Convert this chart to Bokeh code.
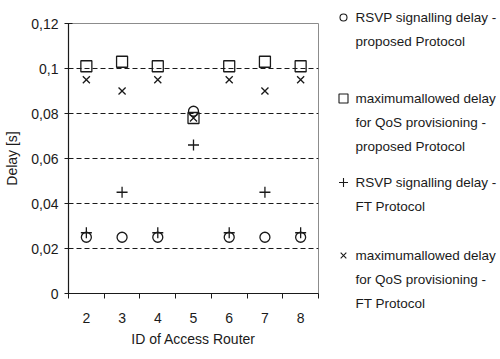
from bokeh.plotting import figure
from bokeh.layouts import row
from bokeh.models import Range1d, FixedTicker
from bokeh.core.properties import value
from bokeh.embed import file_html
from bokeh.resources import INLINE

routers = [2, 3, 4, 5, 6, 7, 8]
rsvp_proposed = [0.025, 0.025, 0.025, 0.081, 0.025, 0.025, 0.025]
maxdelay_proposed = [0.101, 0.103, 0.101, 0.078, 0.101, 0.103, 0.101]
rsvp_ft = [0.027, 0.045, 0.027, 0.066, 0.027, 0.045, 0.027]
maxdelay_ft = [0.095, 0.090, 0.095, 0.078, 0.095, 0.090, 0.095]

y_ticks = [0, 0.02, 0.04, 0.06, 0.08, 0.1, 0.12]
y_tick_labels = ["0", "0,02", "0,04", "0,06", "0,08", "0,1", "0,12"]
grid_values = [0.02, 0.04, 0.06, 0.08, 0.1]

legend_lines = [
    ["RSVP signalling delay -", "proposed Protocol"],
    ["maximumallowed delay", "for QoS provisioning -", "proposed Protocol"],
    ["RSVP signalling delay -", "FT Protocol"],
    ["maximumallowed delay", "for QoS provisioning -", "FT Protocol"],
]

FONT = "Liberation Sans"
INK = "#1a1a1a"

p = figure(frame_width=250, frame_height=270, output_backend="svg", toolbar_location=None,
           x_range=Range1d(1.5, 8.5), y_range=Range1d(0, 0.12),
           min_border_left=68, min_border_right=10, min_border_top=23, min_border_bottom=66)
p.frame_align = False
p.outline_line_color = "#8c8c8c"
p.outline_line_width = 1
p.background_fill_color = "white"
p.border_fill_color = "white"

# x axis
p.xaxis.ticker = FixedTicker(ticks=routers, minor_ticks=[r - 0.5 for r in routers] + [routers[-1] + 0.5])
p.xaxis.major_tick_line_color = None
p.xaxis.major_tick_out = 5
p.xaxis.major_tick_in = 0
p.xaxis.minor_tick_out = 5
p.xaxis.minor_tick_in = 0
p.xaxis.minor_tick_line_color = INK
p.xaxis.major_label_standoff = 14
p.xaxis.axis_label = "ID of Access Router"
p.xaxis.axis_label_standoff = 5

# y axis
p.yaxis.ticker = FixedTicker(ticks=y_ticks, minor_ticks=[])
p.yaxis.major_label_overrides = {t: l for t, l in zip(y_ticks, y_tick_labels)}
p.yaxis.major_tick_in = 4
p.yaxis.major_tick_out = 4
p.yaxis.major_tick_line_color = INK
p.yaxis.major_label_standoff = 6
p.yaxis.axis_label = "Delay [s]"
p.yaxis.axis_label_standoff = 8

for ax in (p.xaxis, p.yaxis):
    ax.axis_line_color = INK
    ax.axis_line_width = 1.2
    ax.major_label_text_font = FONT
    ax.major_label_text_font_size = "14px"
    ax.major_label_text_color = INK
    ax.axis_label_text_font = FONT
    ax.axis_label_text_font_size = "14px"
    ax.axis_label_text_font_style = "normal"
    ax.axis_label_text_color = INK

p.xgrid.visible = False
p.ygrid.ticker = FixedTicker(ticks=grid_values)
p.ygrid.grid_line_color = INK
p.ygrid.grid_line_dash = "5 3"
p.ygrid.grid_line_width = 1.2

mk = dict(line_color=INK, fill_color=None, line_width=1.3)
p.scatter(routers, maxdelay_ft, marker="x", size=10, **mk)
p.scatter(routers, rsvp_ft, marker="cross", size=11, **mk)
p.scatter(routers, maxdelay_proposed, marker="square", size=11, **mk)
p.scatter(routers, rsvp_proposed, marker="circle", size=10, **mk)

# legend panel (pixel coordinates, y from top)
LW, LH = 172, 359
lg = figure(width=LW, height=LH, output_backend="svg", toolbar_location=None,
            x_range=Range1d(0, LW), y_range=Range1d(LH, 0),
            x_axis_location=None, y_axis_location=None, min_border=0)
lg.frame_align = False
lg.outline_line_color = None
lg.xgrid.visible = False
lg.ygrid.visible = False

entry_tops = [17, 98, 182, 255]
line_step = 24
markers = ["circle", "square", "cross", "x"]
sizes = [7, 9, 9, 8]
tx, ty, txt = [], [], []
for top, lines in zip(entry_tops, legend_lines):
    for i, s in enumerate(lines):
        tx.append(27)
        ty.append(top + i * line_step)
        txt.append(s)
lg.text(tx, ty, text=txt, text_font=value(FONT), text_font_size="13.5px",
        text_baseline="middle", text_align="left", text_color=INK)
for top, m, s in zip(entry_tops, markers, sizes):
    lg.scatter([15], [top], marker=m, size=s, line_color=INK, fill_color=None, line_width=1.1)

layout = row(p, lg)
open("out.html", "w").write(file_html(layout, INLINE))
